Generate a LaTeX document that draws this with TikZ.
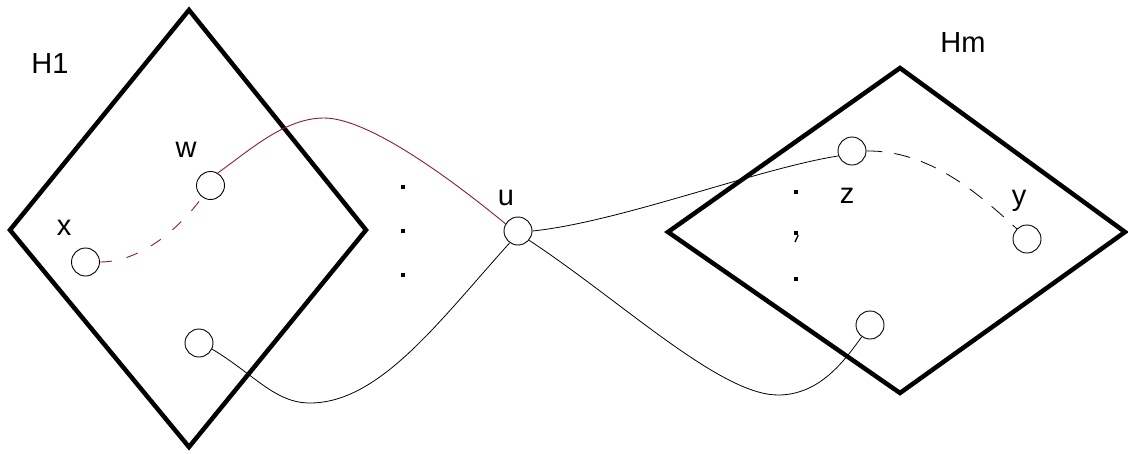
\documentclass[tikz,border=0pt]{standalone}
\usepackage{fontspec}
\setmainfont{Liberation Sans}
\definecolor{edgered}{RGB}{140,30,45}
\begin{document}
\begin{tikzpicture}[x=1pt,y=-1pt,
  part/.style={line width=4.5pt, line join=miter},
  vtx/.style={circle, draw=black, line width=0.9pt, minimum size=28pt, inner sep=0pt, fill=white},
  lbl/.style={font=\fontsize{29pt}{30pt}\selectfont, anchor=base, inner sep=0pt},
  wire/.style={line width=0.8pt},
  redwire/.style={line width=0.9pt, draw=edgered},
  dotmark/.style={fill=black, minimum size=4pt, inner sep=0pt}]
\useasboundingbox (0,0) rectangle (1128,453);
% parts
\draw[part] (189,10) -- (366,230) -- (189,447) -- (10,230) -- cycle;
\draw[part] (900,68) -- (1125,232) -- (900,393) -- (668,232) -- cycle;
% labels
\node[lbl] (lH1) at (50,73) {H1};
\node[lbl] (lHm) at (963,52) {Hm};
\node[lbl] (lw) at (186,157) {w};
\node[lbl] (lx) at (64,235) {x};
\node[lbl] (lu) at (506,205) {u};
\node[lbl] (lz) at (847,203) {z};
\node[lbl] (ly) at (1019,205) {y};
% dots
\node[dotmark] (d1) at (403,187) {};
\node[dotmark] (d2) at (403,231) {};
\node[dotmark] (d3) at (403,275) {};
\node[dotmark] (d4) at (796,192) {};
\node[dotmark] (d5) at (796,233) {};
\draw[line width=1.3pt] (d5.south east) -- (795,242);
\node[dotmark] (d6) at (796,279) {};
% vertices
\node[vtx] (x) at (85.5,262) {};
\node[vtx] (w) at (210.5,185.5) {};
\node[vtx] (a) at (199,343) {};
\node[vtx] (u) at (518,231) {};
\node[vtx] (z) at (852,151) {};
\node[vtx] (y) at (1027,239) {};
\node[vtx] (b) at (870,325) {};
% edges
\draw[redwire] (w.60) .. controls (250,150) and (285,118) .. (324,118)
  .. controls (365,118) and (440,170) .. (u.150);
\draw[redwire, dash pattern=on 12pt off 15pt] (x.east) .. controls (140,262) and (178,230) .. (w.235);
\draw[wire] (a.-25) .. controls (255,375) and (275,403) .. (310,403)
  .. controls (380,403) and (440,320) .. (u.235);
\draw[wire] (u.east) .. controls (620,222) and (760,168) .. (z.200);
\draw[wire] (u.-40) .. controls (620,300) and (720,395) .. (778,395)
  .. controls (820,395) and (845,360) .. (b.235);
\draw[wire, dash pattern=on 16pt off 12pt] (z.east) .. controls (930,150) and (980,195) .. (y.135);
\end{tikzpicture}
\end{document}
